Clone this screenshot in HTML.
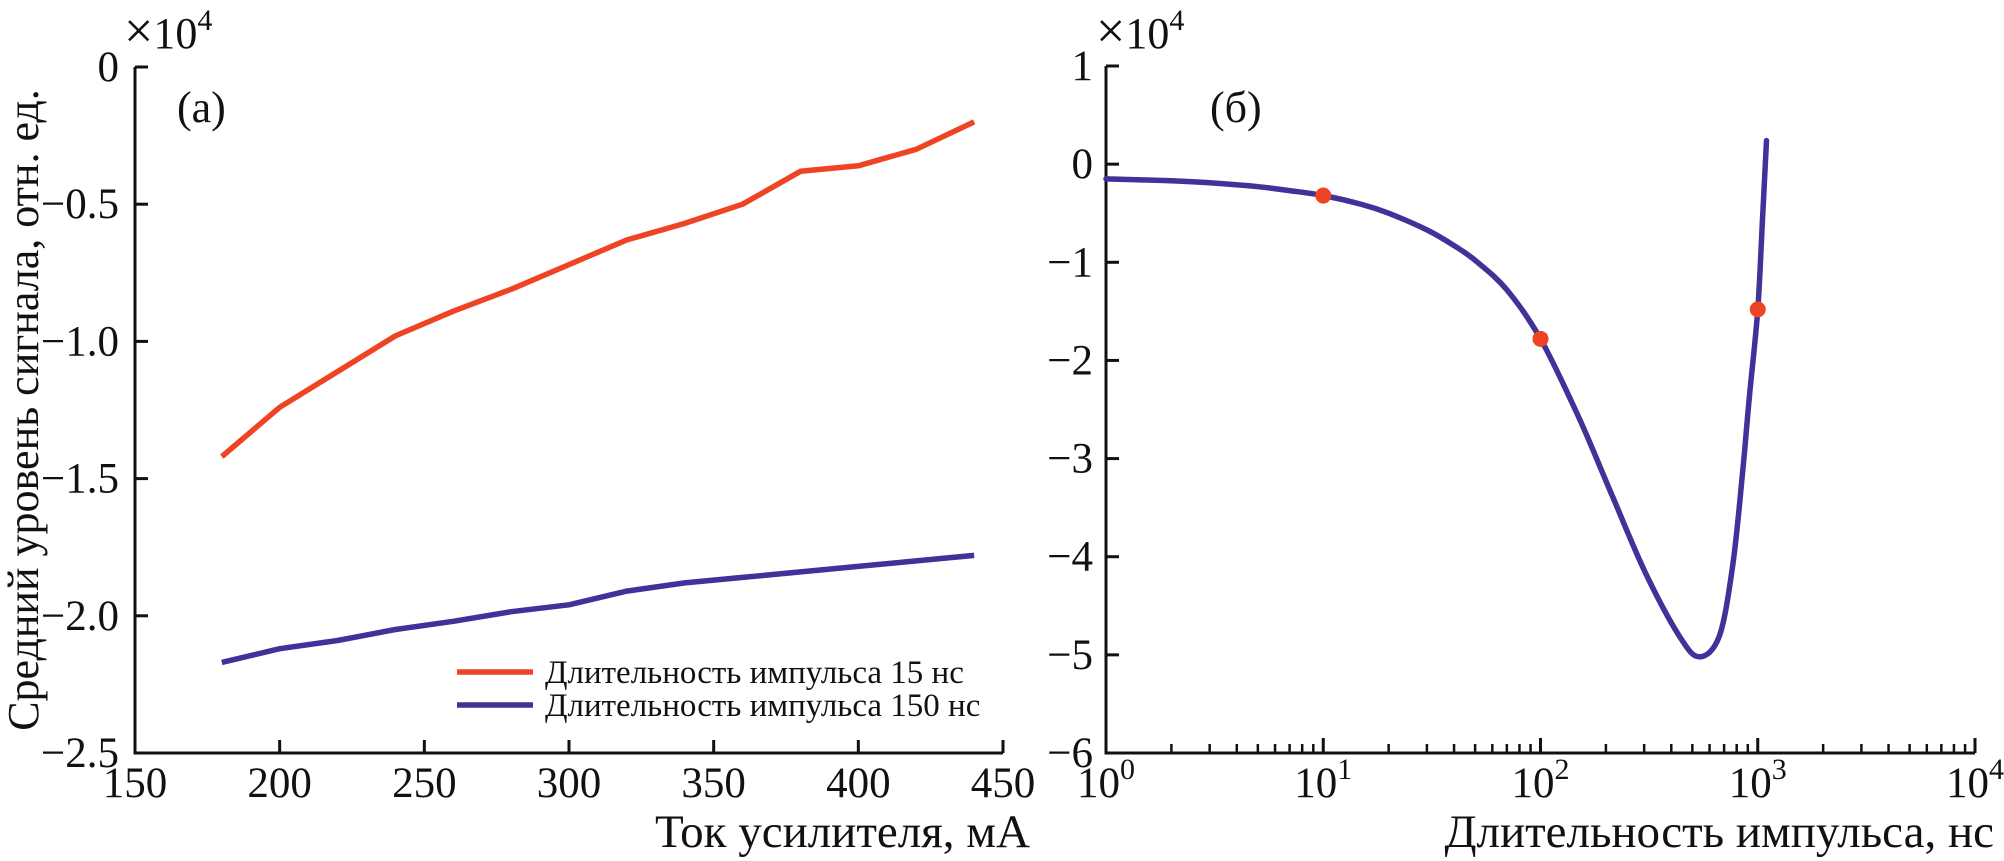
<!DOCTYPE html>
<html><head><meta charset="utf-8"><style>
html,body{margin:0;padding:0;background:#fff;}
svg{display:block;font-family:"Liberation Serif",serif;}
</style></head><body>
<svg id="chart" width="2004" height="861" viewBox="0 0 2004 861" xmlns="http://www.w3.org/2000/svg"></svg>
<script>
// Panel (a) data
const currentsA = [180,200,220,240,260,280,300,320,340,360,380,400,420,440];
const pulse15 = [-1.42,-1.24,-1.11,-0.98,-0.89,-0.81,-0.72,-0.63,-0.57,-0.50,-0.38,-0.36,-0.30,-0.20];
const pulse150 = [-2.17,-2.12,-2.09,-2.05,-2.02,-1.985,-1.96,-1.91,-1.88,-1.86,-1.84,-1.82,-1.80,-1.78];
const xTicksA = [150,200,250,300,350,400,450];
const yTicksA = [0,-0.5,-1.0,-1.5,-2.0,-2.5];
const yTickLabelsA = ["0","\u22120.5","\u22121.0","\u22121.5","\u22122.0","\u22122.5"];
// Panel (b) data
const fitX = [1,2,3,5,7,10,15,20,30,40,50,70,100,150,214,305,436,538,665,767,851,913,1000,1055,1097];
const fitY = [-0.15,-0.17,-0.19,-0.23,-0.27,-0.32,-0.41,-0.50,-0.67,-0.83,-0.98,-1.28,-1.78,-2.58,-3.38,-4.17,-4.81,-5.02,-4.81,-4.09,-3.15,-2.39,-1.48,-0.50,0.24];
const measX = [10,100,1000];
const measY = [-0.32,-1.78,-1.48];
const yTicksB = [1,0,-1,-2,-3,-4,-5,-6];
const yTickLabelsB = ["1","0","\u22121","\u22122","\u22123","\u22124","\u22125","\u22126"];
const xDecadesB = [0,1,2,3,4];

const NS="http://www.w3.org/2000/svg";
const svg=document.getElementById('chart');
function el(tag,attrs,parent){const e=document.createElementNS(NS,tag);for(const k in attrs)e.setAttribute(k,attrs[k]);(parent||svg).appendChild(e);return e;}
function txt(s,attrs,parent){const e=el('text',attrs,parent);e.textContent=s;return e;}

const RED="#ee4423", BLUE="#3f3299";
const A={x0:135,x1:1003,y0:67,y1:753};
const xa=v=>A.x0+(v-150)/(450-150)*(A.x1-A.x0);
const ya=v=>A.y0+(0-v)/(2.5)*(A.y1-A.y0);
const B={x0:1106,x1:1975,y0:66,y1:753};
const xb=v=>B.x0+Math.log10(v)/4*(B.x1-B.x0);
const yb=v=>B.y0+(1-v)/7*(B.y1-B.y0);

// ---- Panel A ----
const gA=el('g',{});


const axA=el('path',{d:`M${A.x0},${A.y0}V${A.y1}H${A.x1}`,fill:'none',stroke:'#111','stroke-width':3},gA);


xTicksA.forEach(v=>{
  const x=xa(v);
  el('line',{x1:x,x2:x,y1:A.y1,y2:A.y1-13,stroke:'#111','stroke-width':3},gA);
  const t=txt(String(v),{x:x,y:797,'font-size':43,'text-anchor':'middle',fill:'#111'},gA);
  
  
});
yTicksA.forEach((v,i)=>{
  const y=ya(v);
  el('line',{x1:A.x0,x2:A.x0+13,y1:y,y2:y,stroke:'#111','stroke-width':3},gA);
  const t=txt(yTickLabelsA[i],{x:119,y:y+14,'font-size':43,'text-anchor':'end',fill:'#111'},gA);
  
  
});
const mA=txt('',{x:124,y:48,'font-size':44,fill:'#111'},gA);
mA.innerHTML='<tspan font-size="52">×</tspan>10<tspan dy="-18" font-size="30">4</tspan>';


const lblA=txt('(a)',{x:177,y:122,'font-size':44,fill:'#111'},gA);


const yt=txt('Средний уровень сигнала, отн. ед.',{x:0,y:0,'font-size':44,'text-anchor':'middle',fill:'#111',transform:'translate(38,410) rotate(-90)'},gA);


const xt=txt('Ток усилителя, мА',{x:1030,y:847,'font-size':47,'text-anchor':'end',fill:'#111'},gA);


function poly(xs,ys,fx,fy){return xs.map((v,i)=>`${fx(v).toFixed(1)},${fy(ys[i]).toFixed(1)}`).join(' ');}
const l15=el('polyline',{points:poly(currentsA,pulse15,xa,ya),fill:'none',stroke:RED,'stroke-width':5.5,'stroke-linejoin':'round'},gA);


const l150=el('polyline',{points:poly(currentsA,pulse150,xa,ya),fill:'none',stroke:BLUE,'stroke-width':5.5,'stroke-linejoin':'round'},gA);


const leg=el('g',{},gA);


const le1=el('g',{},leg);


el('line',{x1:457,x2:533,y1:672,y2:672,stroke:RED,'stroke-width':5.5},le1);
txt('Длительность импульса 15 нс',{x:545,y:683,'font-size':33,fill:'#111'},le1);
const le2=el('g',{},leg);


el('line',{x1:457,x2:533,y1:705,y2:705,stroke:BLUE,'stroke-width':5.5},le2);
txt('Длительность импульса 150 нс',{x:545,y:716,'font-size':33,fill:'#111'},le2);

// ---- Panel B ----
const gB=el('g',{});


const axB=el('path',{d:`M${B.x0},${B.y0}V${B.y1}H${B.x1}`,fill:'none',stroke:'#111','stroke-width':3},gB);


xDecadesB.forEach(d=>{
  const x=xb(Math.pow(10,d));
  el('line',{x1:x,x2:x,y1:B.y1,y2:B.y1-15,stroke:'#111','stroke-width':3},gB);
  const t=txt('',{x:x,y:797,'font-size':43,'text-anchor':'middle',fill:'#111'},gB);
  t.innerHTML='10<tspan dy="-18" font-size="30">'+d+'</tspan>';
  
  
  if(d<4){for(let m=2;m<=9;m++){const xm=xb(m*Math.pow(10,d));el('line',{x1:xm,x2:xm,y1:B.y1,y2:B.y1-9,stroke:'#111','stroke-width':2.5},gB);}}
});
yTicksB.forEach((v,i)=>{
  const y=yb(v);
  el('line',{x1:B.x0,x2:B.x0+13,y1:y,y2:y,stroke:'#111','stroke-width':3},gB);
  const t=txt(yTickLabelsB[i],{x:1093,y:y+14,'font-size':43,'text-anchor':'end',fill:'#111'},gB);
  
  
});
const mB=txt('',{x:1096,y:48,'font-size':44,fill:'#111'},gB);
mB.innerHTML='<tspan font-size="52">×</tspan>10<tspan dy="-18" font-size="30">4</tspan>';


const lblB=txt('(б)',{x:1210,y:122,'font-size':44,fill:'#111'},gB);


const xtb=txt('Длительность импульса, нс',{x:1994,y:847,'font-size':47,'text-anchor':'end',fill:'#111'},gB);


const pts=fitX.map((v,i)=>[xb(v),yb(fitY[i])]);
let d=`M${pts[0][0]},${pts[0][1]}`;
for(let i=0;i<pts.length-1;i++){
  const p0=pts[Math.max(0,i-1)],p1=pts[i],p2=pts[i+1],p3=pts[Math.min(pts.length-1,i+2)];
  const c1=[p1[0]+(p2[0]-p0[0])/6,p1[1]+(p2[1]-p0[1])/6];
  const c2=[p2[0]-(p3[0]-p1[0])/6,p2[1]-(p3[1]-p1[1])/6];
  d+=` C${c1[0].toFixed(1)},${c1[1].toFixed(1)} ${c2[0].toFixed(1)},${c2[1].toFixed(1)} ${p2[0].toFixed(1)},${p2[1].toFixed(1)}`;
}
const fit=el('path',{d:d,fill:'none',stroke:BLUE,'stroke-width':5.5,'stroke-linecap':'round'},gB);


measX.forEach((v,i)=>{
  const c=el('circle',{cx:xb(v),cy:yb(measY[i]),r:8,fill:RED},gB);
  
  
});
</script>
</body></html>
